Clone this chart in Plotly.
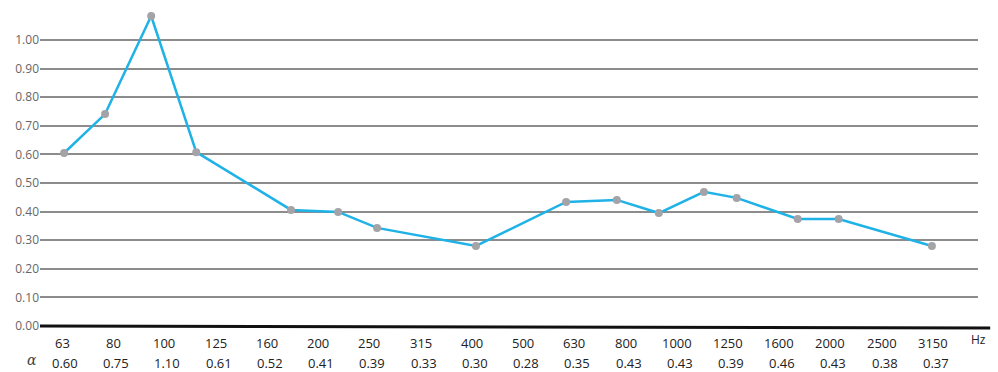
import plotly.graph_objects as go

# Category axis (frequency bands) and the alpha row shown below them
freq_labels = ["63", "80", "100", "125", "160", "200", "250", "315", "400", "500",
               "630", "800", "1000", "1250", "1600", "2000", "2500", "3150"]
alpha_labels = ["0.60", "0.75", "1.10", "0.61", "0.52", "0.41", "0.39", "0.33", "0.30",
                "0.28", "0.35", "0.43", "0.43", "0.39", "0.46", "0.43", "0.38", "0.37"]

# Measured curve: positions along the band axis (band index units) and values
point_pos = [0.04, 0.84, 1.74, 2.62, 4.47, 5.39, 6.15, 8.08, 9.84, 10.83,
             11.65, 12.53, 13.17, 14.36, 15.16, 16.98]
point_val = [0.605, 0.741, 1.084, 0.608, 0.406, 0.399, 0.343, 0.280, 0.434, 0.441,
             0.395, 0.469, 0.448, 0.374, 0.374, 0.280]

y_ticks = [0.0, 0.1, 0.2, 0.3, 0.4, 0.5, 0.6, 0.7, 0.8, 0.9, 1.0]

FONT = "Open Sans, Noto Sans, sans-serif"
TXT = "#222222"

fig = go.Figure()
fig.add_trace(go.Scatter(
    x=point_pos, y=point_val, mode="lines+markers",
    line=dict(color="#1fb2e6", width=2.5),
    marker=dict(color="#a3a3a8", size=8),
    cliponaxis=False, showlegend=False, hoverinfo="skip",
))

annotations = []
for i, (f, a) in enumerate(zip(freq_labels, alpha_labels)):
    annotations.append(dict(x=i, y=-0.0545, xref="x", yref="paper", text=f, showarrow=False,
                            yanchor="middle", font=dict(size=13, color=TXT, family=FONT)))
    annotations.append(dict(x=i, y=-0.1155, xref="x", yref="paper", text=a, showarrow=False,
                            yanchor="middle", xshift=3,
                            font=dict(size=13, color=TXT, family=FONT)))
annotations.append(dict(x=17.88, y=-0.044, xref="x", yref="paper", text="Hz", showarrow=False,
                        yanchor="middle", font=dict(size=12, color=TXT, family=FONT)))
annotations.append(dict(x=-0.016, y=-0.108, xref="paper", yref="paper", text="<i>α</i>",
                        showarrow=False, yanchor="middle",
                        font=dict(size=14, color="#444444", family="DejaVu Serif, serif")))

fig.update_layout(
    width=998, height=372,
    margin=dict(l=40, r=20, t=8, b=46),
    paper_bgcolor="white", plot_bgcolor="white",
    annotations=annotations,
    shapes=[dict(type="line", xref="paper", yref="paper", x0=0, x1=1.013, y0=0, y1=-0.006,
                 line=dict(color="#111111", width=3), layer="above")],
    xaxis=dict(range=[-0.43, 17.88], showgrid=False, showticklabels=False,
               zeroline=False, showline=False, ticks="", automargin=False),
    yaxis=dict(range=[0, 1.112], tickvals=y_ticks,
               ticktext=[f"{v:.2f}" for v in y_ticks],
               showgrid=True, gridcolor="#8c8c8c", gridwidth=1.5,
               zeroline=False, showline=False, ticks="", automargin=False,
               tickfont=dict(size=12, color="#666666", family=FONT)),
)

fig.write_html("out.html", config={"displayModeBar": False},
               post_script="document.body.style.margin='0px';")
